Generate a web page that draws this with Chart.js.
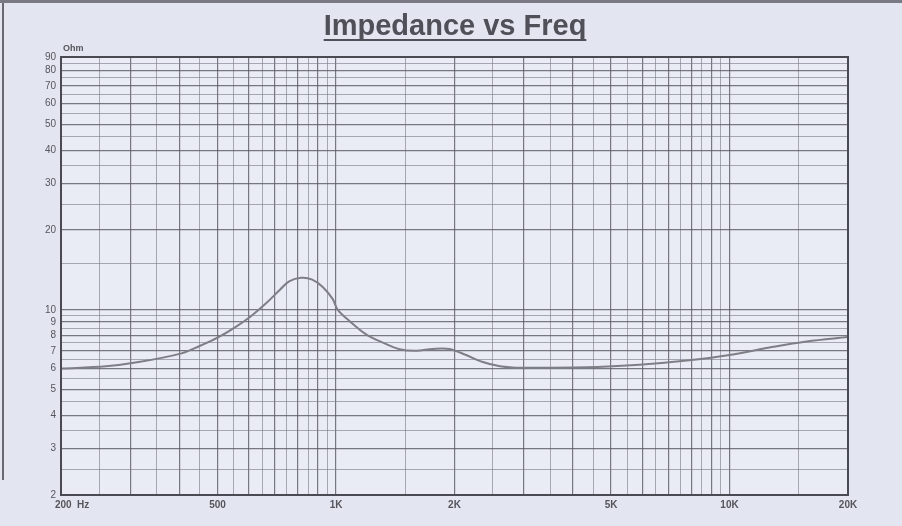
<!DOCTYPE html>
<html>
<head>
<meta charset="utf-8">
<script src="https://cdn.jsdelivr.net/npm/chart.js@4/dist/chart.umd.min.js"></script>
<style>
  html, body { margin: 0; padding: 0; background: #e3e6f1; }
  #wrap { position: relative; width: 902px; height: 526px; overflow: hidden; }
  #title {
    position: absolute; left: 0; width: 910px; top: 9px; text-align: center;
    font: bold 29px "Liberation Sans", Arial, sans-serif; color: #505058;
    text-decoration: underline; text-decoration-thickness: 2px; text-underline-offset: 4px;
    text-decoration-skip-ink: none;
  }
  #edge { position: absolute; left: 2px; top: 0; width: 2px; height: 480px; background: #6a6a72; }
  #topedge { position: absolute; left: 0; top: 0; width: 902px; height: 3px; background: #7a7a84; }
</style>
</head>
<body>
<div id="wrap">
  <canvas id="chart" width="902" height="526"></canvas>
  <div id="edge"></div>
  <div id="topedge"></div>
  <div id="title">Impedance vs Freq</div>
</div>
<script>
/* ── Data ────────────────────────────────────────── */
const freqs = [200, 260, 315, 405, 450, 500, 555, 610, 665, 720, 760, 815, 870, 925, 980, 1010,
               1080, 1190, 1320, 1450, 1600, 1760, 1940, 2140, 2360, 2610, 2860, 3500, 4750,
               5900, 7900, 10000, 12900, 15700, 20000];
const ohms  = [6.0, 6.12, 6.35, 6.85, 7.3, 7.85, 8.6, 9.5, 10.6, 11.9, 12.8, 13.2, 13.0, 12.2, 11.0, 10.0,
               9.1, 8.1, 7.5, 7.1, 7.0, 7.12, 7.12, 6.75, 6.35, 6.12, 6.05, 6.05, 6.1,
               6.2, 6.45, 6.75, 7.25, 7.6, 7.9];

/* ── Grid / tick values ──────────────────────────── */
const xGrid = [200,250,300,350,400,450,500,550,600,650,700,750,800,850,900,950,1000,
               1500,2000,2500,3000,3500,4000,4500,5000,5500,6000,6500,7000,7500,8000,8500,9000,9500,10000,
               15000,20000];
const xMajor = [200,300,400,500,600,700,800,900,1000,2000,3000,4000,5000,6000,7000,8000,9000,10000,20000];
const xLabels = { 200: '        200  Hz', 500: '500', 1000: '1K', 2000: '2K', 5000: '5K', 10000: '10K', 20000: '20K' };

const yGrid = [2,2.5,3,3.5,4,4.5,5,5.5,6,6.5,7,7.5,8,8.5,9,9.5,10,
               15,20,25,30,35,40,45,50,55,60,65,70,75,80,85,90];
const yLabels = [2,3,4,5,6,7,8,9,10,20,30,40,50,60,70,80,90];

const lineCol = '#7e7e86';
const majorCol = 'rgba(90,90,100,0.8)';
const minorCol = 'rgba(120,120,135,0.6)';

/* ── Plot background, frame and unit label ──────── */
const framePlugin = {
  id: 'frame',
  beforeDraw(chart) {
    const { ctx, chartArea: a } = chart;
    ctx.save();
    ctx.fillStyle = '#e9ebf5';
    ctx.fillRect(a.left, a.top, a.right - a.left, a.bottom - a.top);
    ctx.restore();
  },
  afterDraw(chart) {
    const { ctx, chartArea: a } = chart;
    ctx.save();
    ctx.strokeStyle = '#4a4a52';
    ctx.lineWidth = 2;
    ctx.strokeRect(a.left, a.top, a.right - a.left, a.bottom - a.top);
    ctx.fillStyle = '#55555c';
    ctx.font = 'bold 9px "Liberation Sans", Arial, sans-serif';
    ctx.textBaseline = 'bottom';
    ctx.fillText('Ohm', a.left + 2, a.top - 4);
    ctx.restore();
  }
};

new Chart(document.getElementById('chart'), {
  type: 'line',
  data: {
    datasets: [{
      data: freqs.map((f, i) => ({ x: f, y: ohms[i] })),
      borderColor: lineCol,
      borderWidth: 2,
      pointRadius: 0,
      fill: false,
      tension: 0.35,
    }]
  },
  options: {
    responsive: false,
    animation: false,
    layout: { padding: { left: 0, right: 54, top: 57, bottom: 0 } },
    plugins: { legend: { display: false }, tooltip: { enabled: false } },
    scales: {
      x: {
        type: 'logarithmic',
        min: 200, max: 20000,
        afterBuildTicks: s => { s.ticks = xGrid.map(v => ({ value: v })); },
        afterFit: s => { s.height = 31; },
        ticks: {
          autoSkip: false, maxRotation: 0, padding: 4,
          color: '#55555c',
          font: { family: 'Liberation Sans', size: 10, weight: 'bold' },
          callback: v => xLabels[v] || '',
        },
        grid: {
          drawTicks: false,
          color: c => xMajor.includes(c.tick.value) ? majorCol : minorCol,
          lineWidth: c => xMajor.includes(c.tick.value) ? 1.2 : 1,
        },
        border: { color: '#4a4a52', width: 2 },
      },
      y: {
        type: 'logarithmic',
        min: 2, max: 90,
        afterBuildTicks: s => { s.ticks = yGrid.map(v => ({ value: v })); },
        afterFit: s => { s.width = 61; },
        ticks: {
          autoSkip: false, padding: 5,
          color: '#55555c',
          font: { family: 'Liberation Sans', size: 10 },
          callback: v => yLabels.includes(v) ? String(v) : '',
        },
        grid: {
          drawTicks: false,
          color: c => yLabels.includes(c.tick.value) ? majorCol : minorCol,
          lineWidth: c => yLabels.includes(c.tick.value) ? 1.2 : 1,
        },
        border: { color: '#4a4a52', width: 2 },
      }
    }
  },
  plugins: [framePlugin]
});
</script>
</body>
</html>
